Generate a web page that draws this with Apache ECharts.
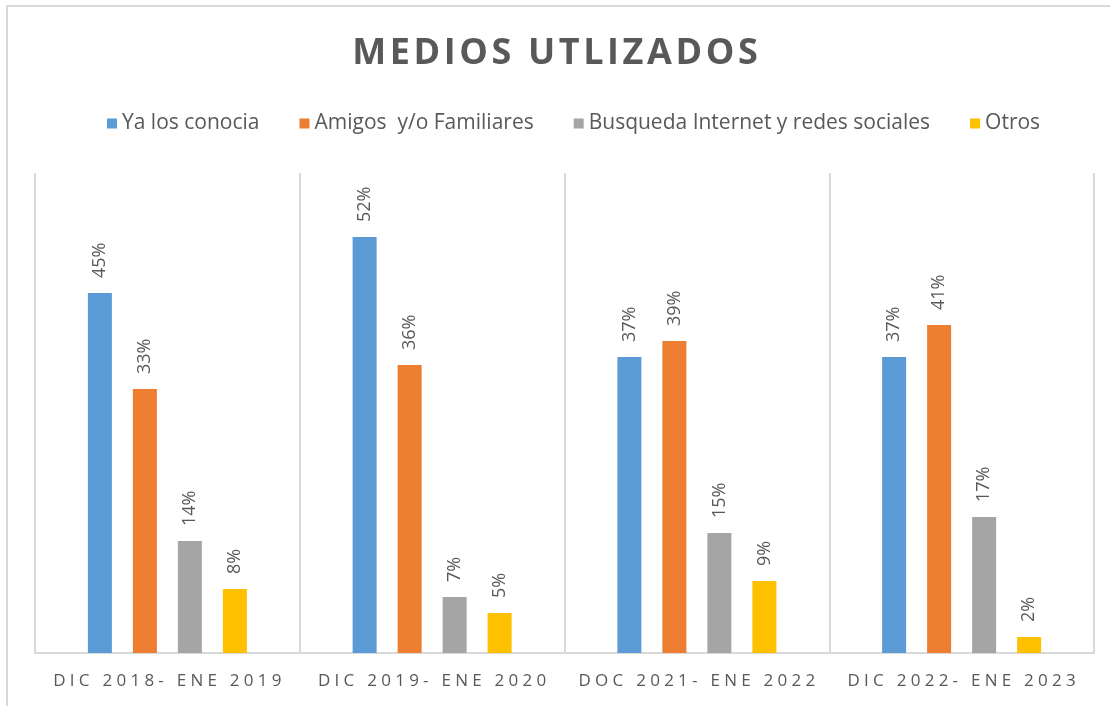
<!DOCTYPE html>
<html>
<head>
<meta charset="utf-8">
<title>Medios utlizados</title>
<script src="https://cdn.jsdelivr.net/npm/echarts@6/dist/echarts.min.js"></script>
<style>
  html, body { margin: 0; padding: 0; background: #fff; overflow: hidden; }
  #frame {
    position: absolute; left: 6px; top: 5px; width: 1200px; height: 800px;
    border-left: 2px solid #d9d9d9; border-top: 2px solid #d9d9d9;
  }
  #chart { position: absolute; left: 0; top: 0; width: 1110px; height: 706px; }
</style>
</head>
<body>
<div id="frame"></div>
<div id="chart"></div>
<script>
const categories = ['DIC 2018- ENE 2019', 'DIC 2019- ENE 2020', 'DOC 2021- ENE 2022', 'DIC 2022- ENE 2023']
const yaLosConocia = [45, 52, 37, 37]
const amigosFamiliares = [33, 36, 39, 41]
const busquedaInternet = [14, 7, 15, 17]
const otros = [8, 5, 9, 2]

const gris = '#595959'
// el original usa espaciado entre letras
const spaced = (s, sep) => s.split('').join(sep)

const serie = (name, data, color) => ({
  name: name,
  type: 'bar',
  data: data,
  barWidth: 24,
  barGap: '87.5%',
  itemStyle: { color: color },
  label: {
    show: true,
    position: 'top',
    rotate: 90,
    distance: 15,
    align: 'left',
    verticalAlign: 'middle',
    color: gris,
    fontSize: 18,
    fontFamily: 'Open Sans',
    formatter: p => p.value + '%'
  }
})

const chart = echarts.init(document.getElementById('chart'))
chart.setOption({
  animation: false,
  title: {
    text: spaced('MEDIOS UTLIZADOS', '\u200A'),
    left: 'center',
    top: 31,
    textStyle: { color: gris, fontSize: 36, fontWeight: 'bold', fontFamily: 'Open Sans' }
  },
  legend: {
    top: 108,
    left: 102,
    itemWidth: 10,
    itemHeight: 10,
    itemGap: 40,
    icon: 'rect',
    textStyle: { color: gris, fontSize: 21, fontFamily: 'Open Sans' }
  },
  grid: { left: 35, right: 16, top: 173, bottom: 53 },
  xAxis: {
    type: 'category',
    data: categories,
    axisLine: { lineStyle: { color: '#d9d9d9', width: 2 } },
    axisTick: { show: false },
    splitLine: { show: true, interval: 0, lineStyle: { color: '#d9d9d9', width: 2 } },
    axisLabel: {
      interval: 0,
      color: gris,
      fontSize: 17,
      margin: 20,
      fontFamily: 'Open Sans',
      formatter: v => spaced(v, '\u2005')
    }
  },
  yAxis: {
    type: 'value',
    min: 0,
    max: 60,
    show: false
  },
  series: [
    serie('Ya los conocia', yaLosConocia, '#5b9bd5'),
    serie('Amigos  y/o Familiares', amigosFamiliares, '#ed7d31'),
    serie('Busqueda Internet y redes sociales', busquedaInternet, '#a5a5a5'),
    serie('Otros', otros, '#ffc000')
  ]
})
</script>
</body>
</html>
